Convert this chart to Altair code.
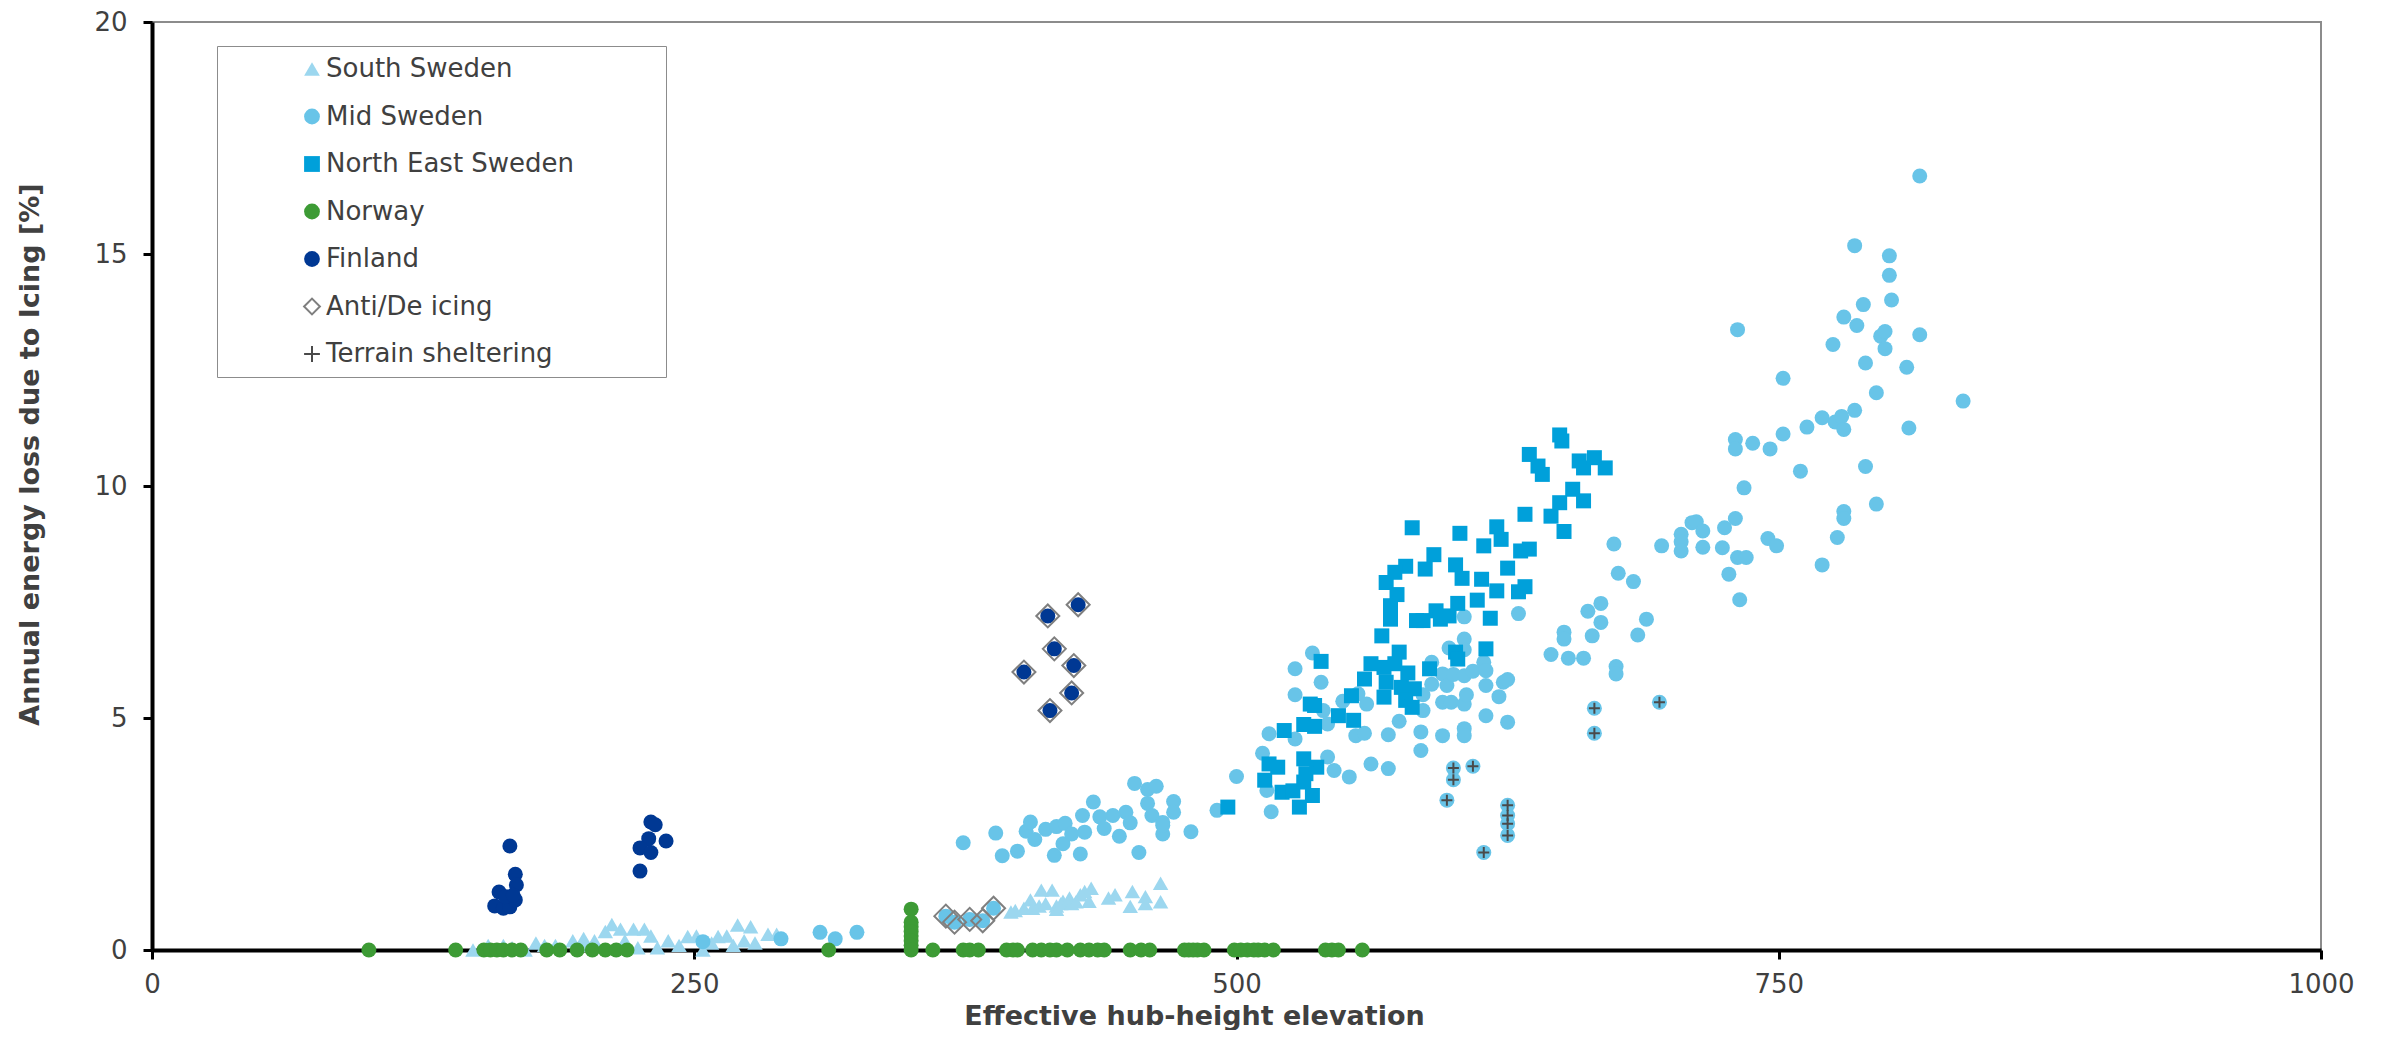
import altair as alt
import pandas as pd

SERIES = ["South Sweden", "Mid Sweden", "North East Sweden", "Norway",
          "Finland", "Anti/De icing", "Terrain sheltering"]

south_x = [148, 155, 162, 166, 172, 177, 181, 186, 194, 199, 200, 204, 209, 212, 216, 218,
           222, 224, 227, 230, 233, 238, 243, 247, 251, 254, 258, 261, 265, 268, 270, 273,
           276, 278, 284, 288,
           396, 398, 402, 405, 406, 409, 410, 412, 415, 417, 417, 419, 420, 423, 424, 426,
           428, 430, 432, 433, 441, 444, 451, 452, 458, 458, 465, 465]
south_y = [0.00, 0.10, 0.10, 0.05, 0.00, 0.15, 0.10, 0.10, 0.20, 0.25, 0.10, 0.20, 0.40, 0.55,
           0.45, 0.20, 0.45, 0.05, 0.45, 0.30, 0.05, 0.20, 0.10, 0.29, 0.30, 0.00, 0.15, 0.29,
           0.30, 0.10, 0.54, 0.20, 0.50, 0.15, 0.34, 0.34,
           0.82, 0.85, 0.90, 1.08, 0.90, 0.95, 1.29, 1.00, 1.29, 0.95, 0.88, 1.00, 1.05, 1.12,
           1.00, 1.04, 1.19, 1.26, 1.05, 1.33, 1.12, 1.19, 0.94, 1.26, 1.00, 1.15, 1.04, 1.44]

mid_x = [254, 290, 308, 315, 325,
         366, 370, 377, 383, 388,
         374, 389, 392, 399, 403, 405, 407, 412, 416, 417, 420, 421, 424, 428, 429, 430,
         434, 437, 439, 443, 446, 449, 451, 453, 455, 459, 459, 461, 463, 466, 466, 471,
         471, 466, 479, 491, 500,
         512, 514, 515, 516, 527, 527, 527, 535, 539, 540, 542, 542, 545, 549, 552, 555,
         556, 559, 560, 562, 570, 570, 575, 585, 585, 586, 586, 590, 590, 595, 595, 595,
         597, 598, 599, 600, 605, 605, 605, 605, 605, 605, 605, 606, 609, 614, 615, 615,
         615, 621, 623, 625, 625, 630, 645, 651, 651, 653, 660, 662, 664, 668, 668, 674,
         675, 675, 676, 683, 685, 689,
         696, 705, 705, 705, 710, 712, 715, 715, 724, 725, 727, 730, 730, 730, 731, 731,
         732, 734, 735, 738, 745, 746, 749, 752, 752, 760, 763, 770, 770, 775, 776, 777,
         779, 780, 780, 780, 780, 785, 785, 786, 789, 790, 790, 795, 795, 797, 799, 799,
         801, 801, 802, 809, 810, 815, 815, 835,
         665, 665, 600, 600, 609, 597, 625, 625, 625, 625, 614, 695]
mid_y = [0.18, 0.24, 0.38, 0.24, 0.38,
         0.73, 0.60, 0.66, 0.63, 0.90,
         2.31, 2.52, 2.03, 2.13, 2.56, 2.76, 2.38, 2.60, 2.04, 2.66, 2.29, 2.73, 2.50, 2.07,
         2.90, 2.54, 3.19, 2.87, 2.62, 2.90, 2.45, 2.97, 2.74, 3.59, 2.10, 3.46, 3.16, 2.90,
         3.53, 2.75, 2.50, 3.20, 2.97, 2.69, 2.55, 3.01, 3.74,
         4.24, 3.44, 4.66, 2.98, 6.06, 5.50, 4.55, 6.40, 5.77, 5.16, 4.87, 4.16, 3.87, 5.36,
         3.73, 4.62, 5.52, 4.67, 5.30, 4.01, 4.64, 3.91, 4.93, 4.30, 4.70, 5.50, 5.16, 6.20,
         5.73, 5.95, 4.62, 5.34, 5.70, 6.51, 5.34, 5.94, 5.91, 4.77, 6.70, 7.18, 6.47, 5.30,
         4.62, 5.50, 6.01, 6.20, 6.02, 5.70, 5.05, 5.46, 5.77, 5.83, 4.91, 7.25, 6.37, 6.85,
         6.70, 6.29, 6.29, 7.30, 6.77, 7.47, 7.06, 8.75, 6.11, 5.95, 8.12, 7.94, 6.79, 7.13,
         8.71, 8.96, 8.80, 8.60, 9.21, 9.23, 9.03, 8.68, 8.67, 9.10, 8.10, 11.00, 10.80, 9.30,
         8.46, 13.37, 7.55, 9.96, 8.46, 10.92, 8.87, 10.80, 8.71, 12.32, 11.12, 10.32, 11.27,
         11.47, 8.30, 13.05, 11.38, 8.89, 11.50, 13.64, 11.22, 9.45, 9.30, 15.18, 11.63,
         13.46, 13.91, 12.65, 10.42, 12.01, 9.61, 13.23, 13.33, 12.96, 14.96, 14.54, 14.01,
         12.56, 11.25, 16.68, 13.26, 11.83,
         5.21, 4.67, 3.92, 3.67, 3.96, 3.23, 3.12, 2.90, 2.72, 2.47, 2.10, 5.34]

ne_x = [649, 650, 635, 639, 641, 658, 660, 665, 670, 655, 660, 649, 645, 651, 633, 581,
        603, 620, 622, 614, 635, 631, 591, 587, 578, 573, 569, 601, 604, 613, 625, 620,
        633, 630, 574, 571, 571, 583, 586, 592, 594, 598, 602, 611, 617, 567, 575, 601,
        602, 615, 562, 568, 573, 579, 589, 559, 569, 576, 582, 568, 578, 581, 553, 534,
        536, 547, 554, 531, 536, 522, 539, 531, 519, 513, 537, 532, 521, 526, 535, 529,
        496, 515, 531]
ne_y = [11.10, 10.97, 10.68, 10.43, 10.25, 10.54, 10.39, 10.61, 10.39, 9.93, 9.68, 9.64,
        9.35, 9.02, 9.39, 9.10, 8.98, 9.12, 8.85, 8.71, 8.64, 8.60, 8.52, 8.21, 8.27, 8.14,
        7.92, 8.30, 8.01, 7.99, 8.23, 7.74, 7.83, 7.72, 7.66, 7.42, 7.13, 7.10, 7.10, 7.31,
        7.13, 7.20, 7.47, 7.54, 7.15, 6.77, 6.42, 6.42, 6.27, 6.49, 6.17, 6.09, 6.17, 5.97,
        6.06, 5.84, 5.77, 5.66, 5.63, 5.45, 5.38, 5.23, 5.48, 5.30, 5.27, 5.05, 4.95, 4.86,
        4.82, 4.73, 6.22, 4.12, 3.94, 3.66, 3.94, 3.80, 3.40, 3.43, 3.33, 3.08, 3.08, 4.01,
        3.62]

norway_x = [100, 140, 153, 156, 159, 162, 166, 170, 182, 188, 196, 203, 209, 214, 219, 312,
            350, 350, 350, 350, 350, 350, 350, 350, 360, 374, 377, 381, 394, 397, 399, 406,
            410, 414, 417, 422, 428, 432, 436, 439, 451, 456, 460, 476, 478, 480, 482, 485,
            499, 502, 505, 508, 510, 513, 517, 541, 544, 547, 558]
norway_y = [0, 0, 0, 0, 0, 0, 0, 0, 0, 0, 0, 0, 0, 0, 0, 0,
            0.88, 0.60, 0.50, 0.40, 0.30, 0.20, 0.10, 0.00, 0, 0, 0, 0, 0, 0, 0, 0,
            0, 0, 0, 0, 0, 0, 0, 0, 0, 0, 0, 0, 0, 0, 0, 0,
            0, 0, 0, 0, 0, 0, 0, 0, 0, 0, 0]

finland_x = [165, 167.5, 168, 160, 158, 162, 165, 167.5, 163, 166.5,
             230, 232, 229, 237, 225, 230, 225,
             413, 427, 416, 402, 425, 424, 414]
finland_y = [2.24, 1.63, 1.40, 1.25, 0.95, 0.90, 0.93, 1.08, 1.15, 1.18,
             2.76, 2.70, 2.40, 2.35, 2.20, 2.10, 1.70,
             7.20, 7.44, 6.49, 5.99, 6.13, 5.54, 5.16]

anti_x = [413, 427, 416, 402, 425, 424, 414, 366, 370, 377, 383, 388]
anti_y = [7.20, 7.44, 6.49, 5.99, 6.13, 5.54, 5.16, 0.73, 0.60, 0.66, 0.63, 0.90]

terrain_x = [665, 665, 600, 600, 609, 597, 625, 625, 625, 625, 614, 695]
terrain_y = [5.21, 4.67, 3.92, 3.67, 3.96, 3.23, 3.12, 2.90, 2.72, 2.47, 2.10, 5.34]

x_ticks = [0, 250, 500, 750, 1000]
y_ticks = [0, 5, 10, 15, 20]

groups = [(SERIES[0], south_x, south_y), (SERIES[1], mid_x, mid_y),
          (SERIES[2], ne_x, ne_y), (SERIES[3], norway_x, norway_y),
          (SERIES[4], finland_x, finland_y), (SERIES[5], anti_x, anti_y),
          (SERIES[6], terrain_x, terrain_y)]
rows = []
for name, xs, ys in groups:
    for a, b in zip(xs, ys):
        rows.append({"x": a, "y": b, "series": name})
df = pd.DataFrame(rows)

SHAPES = ["triangle-up", "circle", "square", "circle", "circle", "diamond",
          "M-1,0H1M0,-1V1"]
FILLS = ["#9CD7EF", "#68C4E8", "#00A0DA", "#3D9B35", "#003893", "transparent", "transparent"]
STROKES = ["transparent"] * 5 + ["#7F7F7F", "#4A4A4A"]
SIZES = [240, 225, 225, 225, 225, 529, 121]

TXT = "#404040"
FONT = "DejaVu Sans"

legend = alt.Legend(title="\u00a0", orient="none", legendX=65, legendY=24,
                    titleOrient="right", titlePadding=82)

chart = alt.Chart(df).mark_point(filled=True, opacity=1, strokeWidth=2).encode(
    x=alt.X("x:Q", scale=alt.Scale(domain=[0, 1000], nice=False, zero=False),
            axis=alt.Axis(values=x_ticks, format="d", labelPadding=12, labelFlush=False,
                          title="Effective hub-height elevation",
                          titleX=1042, titleY=66, titleBaseline="middle", titleAlign="center")),
    y=alt.Y("y:Q", scale=alt.Scale(domain=[0, 20], nice=False),
            axis=alt.Axis(values=y_ticks, title="Annual energy loss due to Icing [%]",
                          titleX=-122, titleY=432, titleBaseline="middle", titleAlign="center",
                          titleAngle=270)),
    shape=alt.Shape("series:N", scale=alt.Scale(domain=SERIES, range=SHAPES), legend=legend),
    fill=alt.Fill("series:N", scale=alt.Scale(domain=SERIES, range=FILLS), legend=legend),
    stroke=alt.Stroke("series:N", scale=alt.Scale(domain=SERIES, range=STROKES), legend=legend),
    size=alt.Size("series:N",
                  scale=alt.Scale(type="ordinal", domain=SERIES[::-1], range=SIZES[::-1]),
                  legend=None),
).properties(
    width=2169, height=928,
    autosize=alt.AutoSizeParams(type="none"),
    padding={"left": 144, "top": 14, "right": 55, "bottom": 80},
).configure_view(
    stroke="#8C8C8C", strokeWidth=2
).configure_axis(
    grid=False, domainColor="black", domainWidth=4, tickColor="black", tickWidth=3,
    tickSize=9, labelFont=FONT, labelFontSize=26, labelColor=TXT, labelPadding=16,
    titleFont=FONT, titleFontSize=27, titleFontWeight="bold", titleColor=TXT,
).configure_legend(
    padding=10, strokeColor="#8C8C8C",
    labelFont=FONT, labelFontSize=26, labelColor=TXT, labelLimit=600,
    symbolSize=250, symbolStrokeWidth=2,
    symbolOffset=72, labelOffset=1, rowPadding=21.5, titleFontSize=26,
)

chart.save("out.html", embed_options={"renderer": "svg", "actions": False})
